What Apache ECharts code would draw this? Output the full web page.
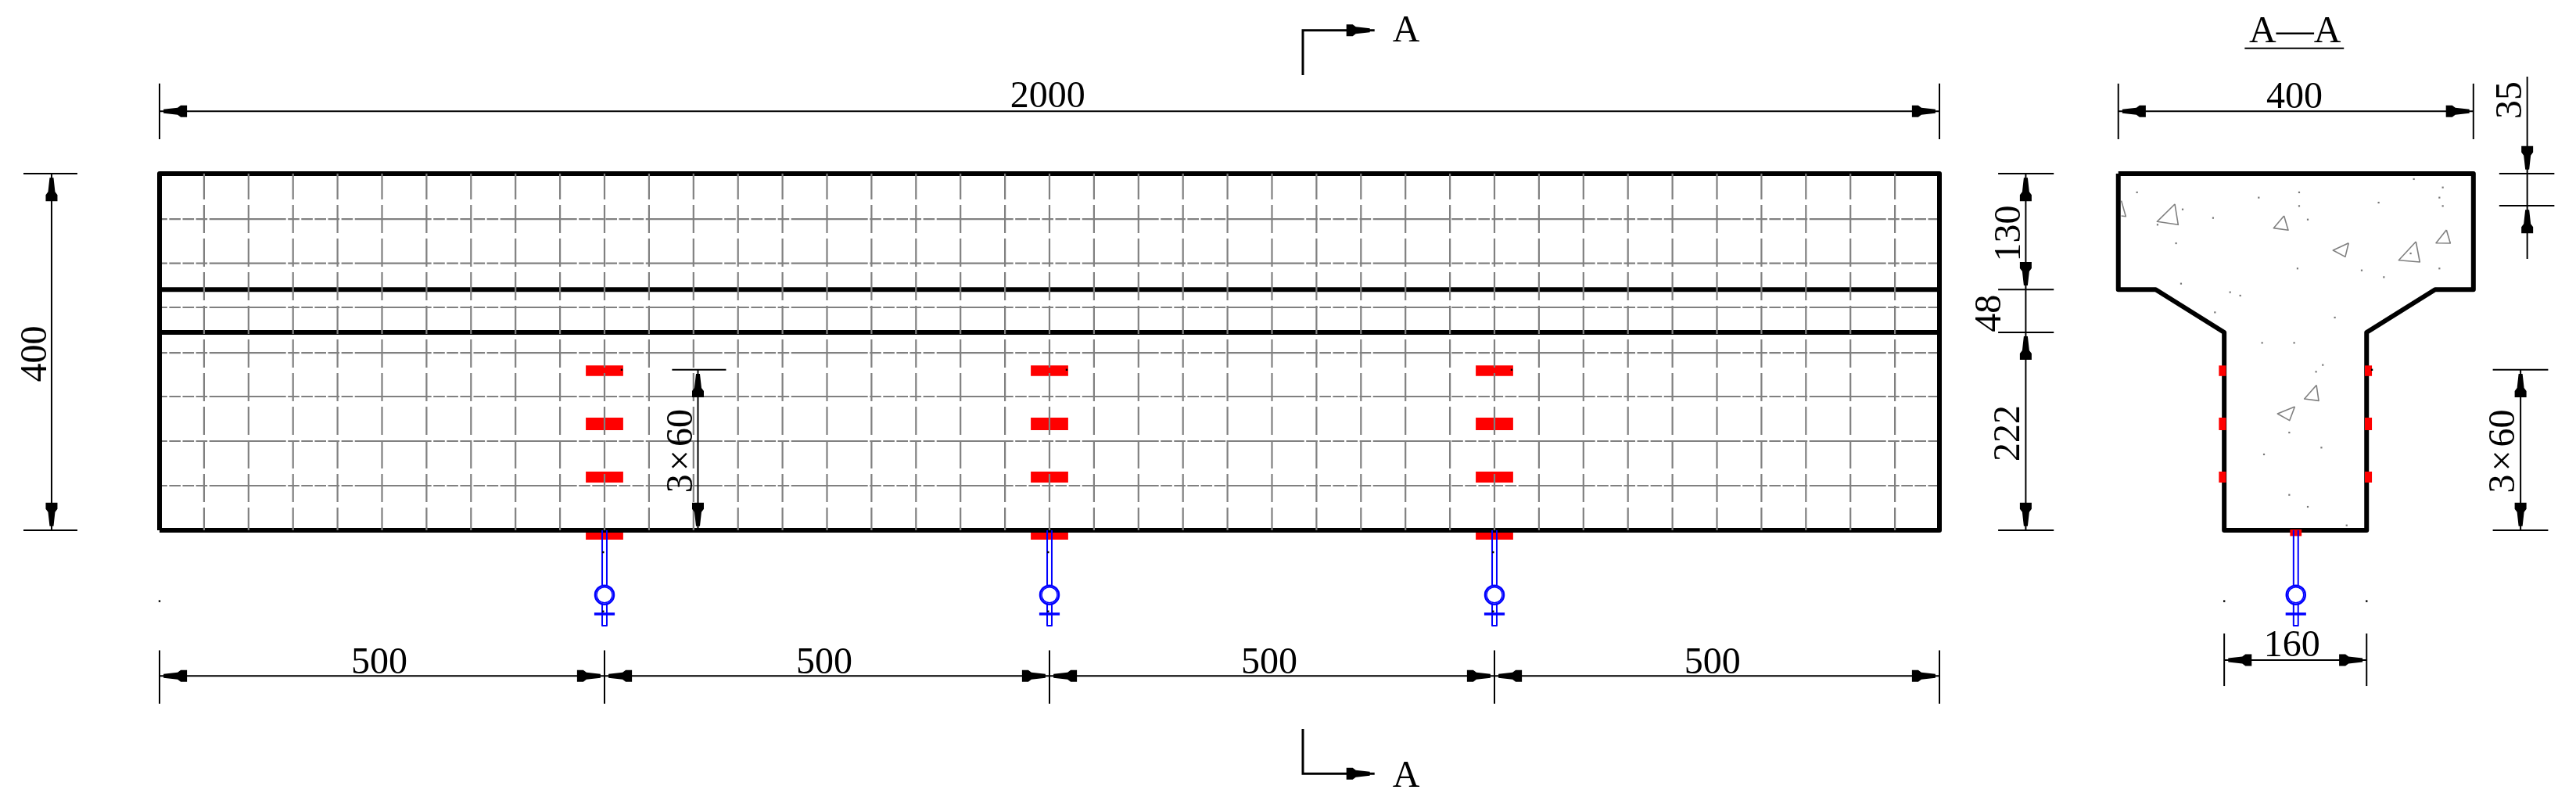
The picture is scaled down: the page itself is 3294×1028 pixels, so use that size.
<!DOCTYPE html>
<html><head><meta charset="utf-8">
<style>html,body{margin:0;padding:0;background:#fff}#c{width:3294px;height:1028px}</style>
<script src="https://cdn.jsdelivr.net/npm/echarts@6/dist/echarts.min.js"></script>
</head><body><div id="c"></div>
<script>
// All values are in millimetres of the drawing (x along the beam, y above the soffit).
const stirrupX = [50,100,150,200,250,300,350,400,450,500,550,600,650,700,750,800,850,900,950,1000,1050,1100,1150,1200,1250,1300,1350,1400,1450,1500,1550,1600,1650,1700,1750,1800,1850,1900,1950];
const rebarY = [349,299.5,250,199,150,100,50];
const beamOutline = [[0,0],[2000,0],[2000,400],[0,400],[0,0]];
const sectionOutline = [[2201,400],[2600,400],[2600,270],[2557,270],[2480,222],[2480,0],[2320,0],[2320,222],[2243,270],[2201,270],[2201,400]];
const flangeLines = [[0,270,2000,270],[0,222,2000,222]];
const gaugeCentres = [500,1000,1500];
const gaugeRows = [[173,184.8],[112.3,126.3],[53.5,65.8],[-10.5,0.9]];
const gaugeHalfLength = 21;
const sectionGauges = [[2314,2322,173,184.8],[2314,2322,112.3,126.3],[2314,2322,53.5,65.8],[2478,2486,173,184.8],[2478,2486,112.3,126.3],[2478,2486,53.5,65.8],[2394,2407,-6.5,0.9]];
const hangerCentres = [500,1000,1500,2400.5];
const dimLines = [
 [0,470,2000,470],[-121.3,0,-121.3,400],[0,-163.4,2000,-163.4],[605,0,605,180],
 [2097,0,2097,400],[2201,470,2600,470],[2660.5,304.4,2660.5,508.8],[2653,0,2653,180],[2320,-145.6,2480,-145.6]
];
const extLines = [
 [0,438.6,0,501],[2000,438.6,2000,501],
 [-152.9,400,-92.3,400],[-152.9,0,-92.3,0],
 [0,-194.5,0,-134.6],[500,-194.5,500,-134.6],[1000,-194.5,1000,-134.6],[1500,-194.5,1500,-134.6],[2000,-194.5,2000,-134.6],
 [575.9,180,636.6,180],
 [2066,400,2128.5,400],[2066,270,2128.5,270],[2066,222,2128.5,222],[2066,0,2128.5,0],
 [2201,438.6,2201,501],[2600,438.6,2600,501],
 [2629,400,2691,400],[2629,364,2691,364],
 [2621.8,180,2684,180],[2621.8,0,2684,0],
 [2320,-174.6,2320,-115.8],[2480,-174.6,2480,-115.8]
];
const arrowTips = [
 [4.5,470,'L'],[1995.5,470,'R'],[-121.3,395.5,'U'],[-121.3,4.5,'D'],
 [4.5,-163.4,'L'],[495.5,-163.4,'R'],[504.5,-163.4,'L'],[995.5,-163.4,'R'],[1004.5,-163.4,'L'],[1495.5,-163.4,'R'],[1504.5,-163.4,'L'],[1995.5,-163.4,'R'],
 [605,175.5,'U'],[605,4.5,'D'],
 [2097,395.5,'U'],[2097,274.5,'D'],[2097,217.5,'U'],[2097,4.5,'D'],
 [2205.5,470,'L'],[2595.5,470,'R'],
 [2660.5,404.5,'D'],[2660.5,359.5,'U'],
 [2653,175.5,'U'],[2653,4.5,'D'],
 [2324.5,-145.6,'L'],[2475.5,-145.6,'R'],
 [1360,560.8,'R'],[1360,-273,'R']
];
const cutMarks = [[[1284.7,510.5],[1284.7,560.8],[1365.3,560.8]],[[1284.7,-222.8],[1284.7,-273],[1365.3,-273]]];
const labels = [
 ['2000',998,489.5,0],['400',-142.4,197.8,90],
 ['500',247,-146,0],['500',747,-146,0],['500',1247,-146,0],['500',1745,-146,0],
 ['3\u200A×\u200A60',583.5,88.9,90],['130',2076.2,333,90],['48',2054.2,243.3,90],['222',2075.4,108.8,90],
 ['400',2399,488.5,0],['35',2638.9,482.5,90],['3\u200A×\u200A60',2631.5,88.6,90],['160',2396,-127,0],
 ['A—A',2399.5,561.5,0],['A',1400.7,563,0],['A',1400.7,-272.8,0]
];
const titleRule = [[2343,540.5,2454.5,540.5]];
const aggregateTriangles = [
 [[2264.5,365.8],[2244.6,346.2],[2268.3,342.7],[2264.5,365.8]],
 [[2387.2,352.6],[2375.5,338.9],[2391.9,336.6],[2387.2,352.6]],
 [[2459.8,322.2],[2442.3,314],[2456,306.7],[2459.8,322.2]],
 [[2535.4,323.7],[2516.1,302.9],[2539.8,300.9],[2535.4,323.7]],
 [[2569.7,336.8],[2558,322.2],[2574.1,321.9],[2569.7,336.8]],
 [[2204.4,369.6],[2209.4,352],[2204.4,352.6]],
 [[2423.6,162.8],[2410.1,147.3],[2426.2,145.3],[2423.6,162.8]],
 [[2399.3,138.6],[2379.9,130.7],[2393.4,123.1],[2399.3,138.6]]
];
const aggregateDots = [
 [2222,379],[2358.8,373.1],[2404.2,379],[2404.2,363.7],[2413.9,348.5],[2493.5,367.5],[2533.1,393.9],[2565.6,384.5],[2561.8,373.1],[2565.6,363.7],
 [2273.3,359.9],[2307.5,350.3],[2245.1,342.7],[2265.9,321.9],[2402.4,293.6],[2474.5,291.5],[2499.4,283.9],[2561.8,293.6],[2529.5,310.5],[2271.5,276.6],
 [2326.6,267],[2338,263.2],[2309.6,244.4],[2444.3,238.6],[2362.6,210.2],[2398.6,210.2],[2430.8,185.4],[2423.2,177.8],
 [2393.1,109.6],[2429.2,92.7],[2364.7,85.1],[2393.1,39.7],[2413.9,26.3],[2457.6,5.5]
];
const blackDots = [[0,-79.5],[2320,-79.5],[2480,-79.5],[519.3,180],[1019.3,180],[1519.3,180],[2486,180],[498.5,-24.6],[498.5,-91],[998.5,-24.6],[998.5,-91],[1498.5,-24.6],[1498.5,-91]];

const GRAY='#808080', BLACK='#000', RED='#ff0000', BLUE='#0000ff';

function pts(api, list){ return list.map(p => api.coord(p)); }
function polySeries(rows, style, z){
  return {type:'custom', coordinateSystem:'cartesian2d', silent:true, z, data:rows.map((r,i)=>[r[0][0],r[0][1],i]),
    renderItem(params, api){
      return {type:'polyline', shape:{points:pts(api, rows[params.dataIndex])}, style:Object.assign({fill:null,lineCap:'butt',lineJoin:'round'},style)};
    }};
}
function segs(list){ return list.map(s=>[[s[0],s[1]],[s[2],s[3]]]); }
function rectSeries(rows, fill, z){
  return {type:'custom', coordinateSystem:'cartesian2d', silent:true, z, data:rows.map(r=>[r[0],r[2],r[1],r[3]]),
    renderItem(params, api){
      const r=rows[params.dataIndex], a=api.coord([r[0],r[3]]), b=api.coord([r[1],r[2]]);
      return {type:'rect', shape:{x:a[0],y:a[1],width:b[0]-a[0],height:b[1]-a[1]}, style:{fill}};
    }};
}
function dotSeries(rows, fill, size, z){
  return {type:'custom', coordinateSystem:'cartesian2d', silent:true, z, data:rows.map(r=>[r[0],r[1]]),
    renderItem(params, api){
      const p=api.coord(rows[params.dataIndex]);
      return {type:'rect', shape:{x:p[0]-size/2,y:p[1]-size/2,width:size,height:size}, style:{fill}};
    }};
}
const ARROW=[[0,-2.5],[18,-4.5],[22,-7.5],[30,-7.5],[30,7.5],[22,7.5],[18,4.5],[0,2.5]];
const arrowSeries={type:'custom',coordinateSystem:'cartesian2d',silent:true,z:7,data:arrowTips.map(r=>[r[0],r[1]]),
  renderItem(params, api){
    const r=arrowTips[params.dataIndex], p=api.coord([r[0],r[1]]);
    const d={L:[1,0],R:[-1,0],U:[0,1],D:[0,-1]}[r[2]];
    const points=ARROW.map(q=>[p[0]+q[0]*d[0]-q[1]*d[1], p[1]+q[0]*d[1]+q[1]*d[0]]);
    return {type:'polygon',shape:{points},style:{fill:BLACK}};
  }};
const TEXT_DROP=4;
const labelSeries={type:'custom',coordinateSystem:'cartesian2d',silent:true,z:8,data:labels.map(r=>[r[1],r[2]]),
  renderItem(params, api){
    const r=labels[params.dataIndex], p=api.coord([r[1],r[2]]);
    const up=r[3]===90;
    return {type:'text',x:p[0]+(up?TEXT_DROP:0),y:p[1]+(up?0:TEXT_DROP),rotation:r[3]*Math.PI/180,
      style:{text:r[0],font:'48px "Liberation Serif"',fill:'#000',align:'center',verticalAlign:'middle'}};
  }};
const hangerLines=[];
hangerCentres.forEach(c=>{
  hangerLines.push([[c-2.6,0],[c-2.6,-61.5]],[[c+2.6,0],[c+2.6,-61.5]],[[c-2.6,-82],[c-2.6,-107],[c+2.6,-107],[c+2.6,-82]]);
});
const hangerBars=hangerCentres.map(c=>[[c-11.5,-93.9],[c+11.5,-93.9]]);
const hangerRings={type:'custom',coordinateSystem:'cartesian2d',silent:true,z:6,data:hangerCentres.map(c=>[c,-72.5]),
  renderItem(params, api){
    const p=api.coord([hangerCentres[params.dataIndex],-72.5]);
    return {type:'group',children:[
      {type:'circle',shape:{cx:p[0],cy:p[1],r:12},style:{fill:'#fff',stroke:BLUE,lineWidth:2.5}},
      {type:'circle',shape:{cx:p[0],cy:p[1],r:10},style:{fill:null,stroke:BLUE,lineWidth:1.5}}
    ]};
  }};
const gaugeRects=[];
gaugeCentres.forEach(c=>gaugeRows.forEach(g=>gaugeRects.push([c-gaugeHalfLength,c+gaugeHalfLength,g[0],g[1]])));

const chart=echarts.init(document.getElementById('c'),null,{renderer:'canvas',width:3294,height:1028});
chart.setOption({
  animation:false, backgroundColor:'#fff',
  grid:{left:204,top:222,width:2276,height:456,containLabel:false,show:false},
  xAxis:{type:'value',min:0,max:2000,show:false},
  yAxis:{type:'value',min:0,max:400,show:false},
  series:[
    polySeries(rebarY.map(y=>[[0,y],[2000,y]]),{stroke:GRAY,lineWidth:2.2,lineDash:[98,2.5,14.6,2.5,14.6,2.5,14.6,2.5,14.6,2.5,14.6,2.5],lineDashOffset:122.3},1),
    rectSeries(gaugeRects,RED,2),
    polySeries([beamOutline,sectionOutline].concat(segs(flangeLines)),{stroke:BLACK,lineWidth:6},3),
    polySeries(stirrupX.map(x=>[[x,400],[x,0]]),{stroke:GRAY,lineWidth:2.2,lineDash:[36,7],lineDashOffset:3},4),
    rectSeries(sectionGauges,RED,5),
    polySeries(hangerLines,{stroke:BLUE,lineWidth:2},6),
    polySeries(hangerBars,{stroke:BLUE,lineWidth:3.5},6),
    hangerRings,
    polySeries(segs(dimLines).concat(segs(extLines),segs(titleRule)),{stroke:BLACK,lineWidth:2},7),
    polySeries(cutMarks,{stroke:BLACK,lineWidth:3,lineJoin:'miter'},7),
    arrowSeries,
    labelSeries,
    polySeries(aggregateTriangles,{stroke:GRAY,lineWidth:1.6},4),
    dotSeries(aggregateDots,'#777',2.2,4),
    dotSeries(blackDots,BLACK,2.4,9)
  ]
});
</script></body></html>
